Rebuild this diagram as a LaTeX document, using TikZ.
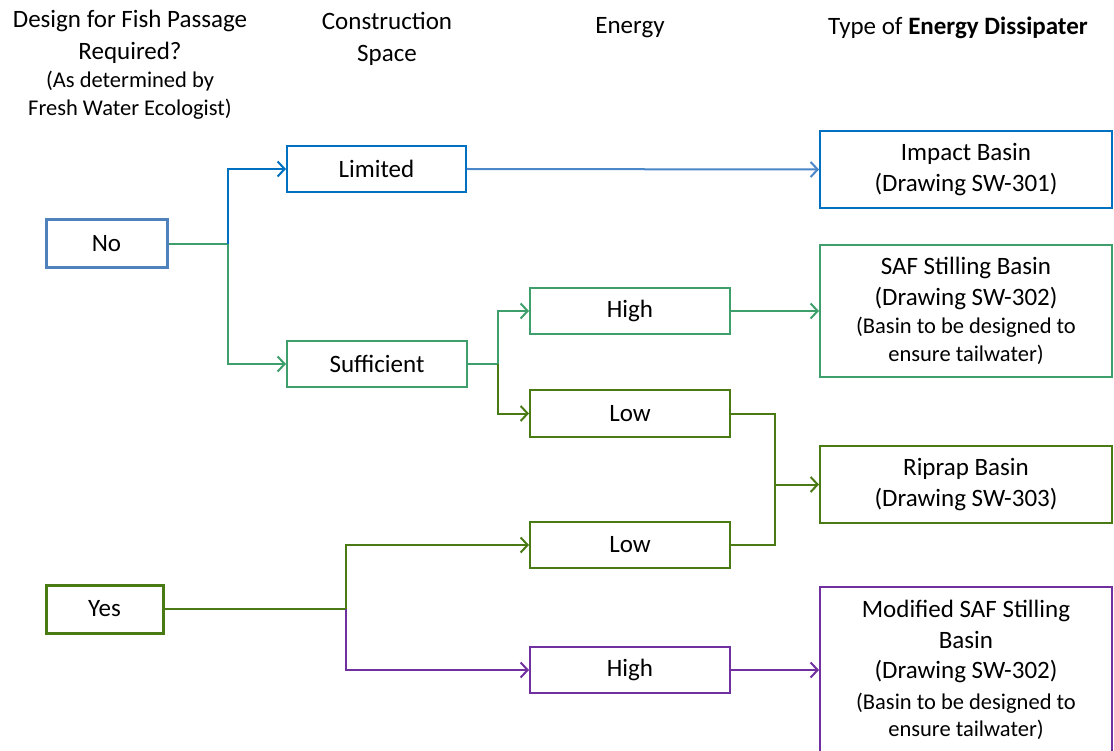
\documentclass[tikz,border=0pt]{standalone}
\usepackage{fontspec}
\setmainfont{Carlito}
\usetikzlibrary{arrows.meta}
\definecolor{cblue}{HTML}{0070C0}
\definecolor{cnoblue}{HTML}{4F81BD}
\definecolor{clineblue}{HTML}{4A86C8}
\definecolor{cgreen}{HTML}{3E9E6C}
\definecolor{cdgreen}{HTML}{4A7A14}
\definecolor{cpurple}{HTML}{7030A0}
\newcommand{\Mfont}{\fontsize{25}{30.5}\selectfont}
\newcommand{\Sfont}{\fontsize{22.5}{27}\selectfont}
\begin{document}
\begin{tikzpicture}[x=1pt,y=-1pt,
  box/.style={draw=#1,line width=2pt,fill=white,text=black,font=\Mfont,align=center,inner sep=0pt},
  thickbox/.style={box=#1,line width=3pt},
  hdr/.style={font=\Mfont,align=center,inner sep=0pt},
  arr/.style={line width=2pt,-{Straight Barb[length=7pt,width=15pt,line width=2pt]}},
  ln/.style={line width=2pt}]
\useasboundingbox (0,0) rectangle (1114,751);
% headers
\node[hdr] (h1) at (130,65) {Design for Fish Passage\\[1pt]Required?\\[-2pt]{\Sfont (As determined by}\\[-3pt]{\Sfont Fresh Water Ecologist)}};
\node[hdr] (h2) at (387,39) {Construction\\[1pt]Space};
\node[hdr] (h3) at (630,28) {Energy};
\node[hdr] (h4) at (958,28) {Type of \textbf{Energy Dissipater}};
% boxes
\node[thickbox=cnoblue,minimum width=121,minimum height=48] (no) at (106.5,244) {No};
\node[thickbox=cdgreen,minimum width=117,minimum height=48] (yes) at (104.5,609) {Yes};
\node[box=cblue,minimum width=179,minimum height=46] (lim) at (376.5,169) {Limited};
\node[box=cgreen,minimum width=180,minimum height=46] (suf) at (377,364) {Sufficient};
\node[box=cgreen,minimum width=200,minimum height=46] (h1b) at (630,311) {High};
\node[box=cdgreen,minimum width=200,minimum height=47] (l1b) at (630,413.5) {Low};
\node[box=cdgreen,minimum width=200,minimum height=46] (l2b) at (630,545) {Low};
\node[box=cpurple,minimum width=200,minimum height=46] (h2b) at (630,670) {High};
\node[box=cblue,minimum width=292,minimum height=77] (imp) at (966,169.5) {Impact Basin\\(Drawing SW-301)};
\node[box=cgreen,minimum width=292,minimum height=132] (saf) at (966,311) {SAF Stilling Basin\\(Drawing SW-302)\\[-2pt]{\Sfont (Basin to be designed to}\\[-3pt]{\Sfont ensure tailwater)}};
\node[box=cdgreen,minimum width=292,minimum height=77] (rip) at (966,484.5) {Riprap Basin\\(Drawing SW-303)};
\node[box=cpurple,minimum width=292,minimum height=166] (mod) at (966,670) {Modified SAF Stilling\\Basin\\(Drawing SW-302)\\{\Sfont (Basin to be designed to}\\[-3pt]{\Sfont ensure tailwater)}};
% junctions
\coordinate (j1) at (228,244);
\coordinate (j2) at (498,364);
\coordinate (j3) at (775,484.5);
\coordinate (j4) at (346,609);
% connectors
\draw[ln,cgreen] (no.east) -- (j1);
\draw[arr,cblue] (j1) |- (lim.west);
\draw[arr,cgreen] (j1) |- (suf.west);
\draw[arr,clineblue] (lim.east) -- (imp.west);
\draw[ln,cgreen] (suf.east) -- (j2);
\draw[arr,cgreen] (j2) |- (h1b.west);
\draw[arr,cdgreen] (j2) |- (l1b.west);
\draw[arr,cgreen] (h1b.east) -- (saf.west);
\draw[ln,cdgreen] (l1b.east) -| (j3);
\draw[ln,cdgreen] (l2b.east) -| (j3);
\draw[arr,cdgreen] (j3) -- (rip.west);
\draw[ln,cdgreen] (yes.east) -- (j4);
\draw[arr,cdgreen] (j4) |- (l2b.west);
\draw[arr,cpurple] (j4) |- (h2b.west);
\draw[arr,cpurple] (h2b.east) -- (mod.west);
\end{tikzpicture}
\end{document}
